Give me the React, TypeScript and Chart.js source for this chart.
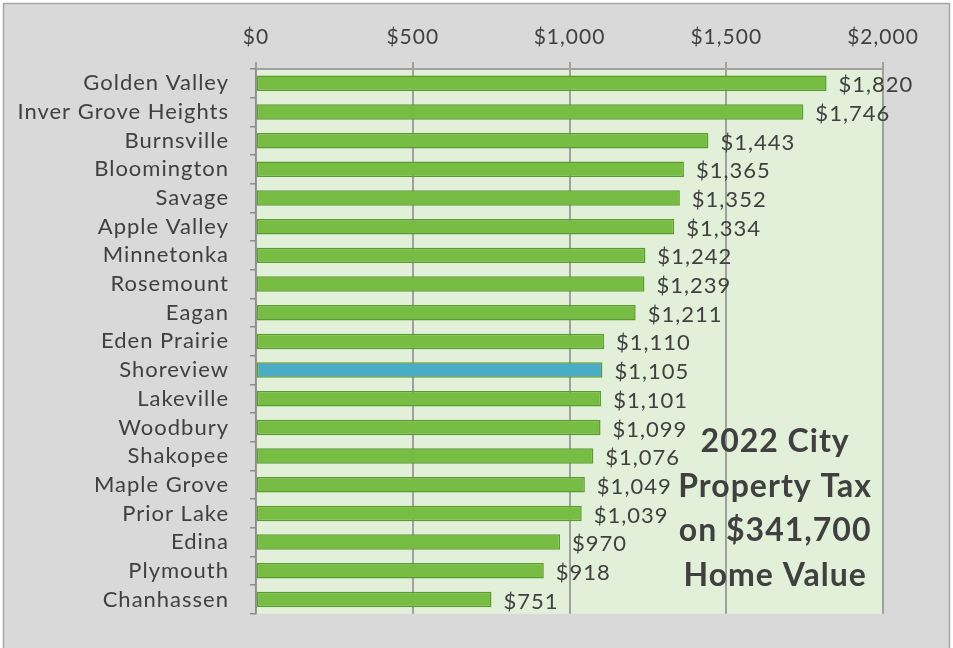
import React, { useEffect, useRef } from "react";
import { Chart, registerables } from "chart.js";

Chart.register(...registerables);

const cities = [
  "Golden Valley",
  "Inver Grove Heights",
  "Burnsville",
  "Bloomington",
  "Savage",
  "Apple Valley",
  "Minnetonka",
  "Rosemount",
  "Eagan",
  "Eden Prairie",
  "Shoreview",
  "Lakeville",
  "Woodbury",
  "Shakopee",
  "Maple Grove",
  "Prior Lake",
  "Edina",
  "Plymouth",
  "Chanhassen",
];
const taxes = [1820, 1746, 1443, 1365, 1352, 1334, 1242, 1239, 1211, 1110, 1105, 1101, 1099, 1076, 1049, 1039, 970, 918, 751];
const highlightCity = "Shoreview";
const xMin = 0;
const xMax = 2000;
const xStep = 500;
const titleLines = ["2022 City", "Property Tax", "on $341,700", "Home Value"];

const FONT = "Lato, 'Open Sans', sans-serif";
const TEXT = "#404040";
const fmt = (v: number) => "$" + Number(v).toLocaleString("en-US");

const bgPlugin = {
  id: "bg",
  beforeDraw(chart: any) {
    const { ctx, width, height, chartArea } = chart;
    ctx.save();
    ctx.fillStyle = "#ffffff";
    ctx.fillRect(0, 0, width, height);
    ctx.fillStyle = "#d9d9d9";
    ctx.fillRect(3, 3, width - 6, height + 10);
    ctx.strokeStyle = "#a6a6a6";
    ctx.lineWidth = 1.5;
    ctx.strokeRect(3.5, 3.5, width - 7, height + 10);
    ctx.fillStyle = "#e2f0d9";
    ctx.fillRect(chartArea.left, chartArea.top, chartArea.right - chartArea.left, chartArea.bottom - chartArea.top);
    ctx.restore();
    (ctx as any).letterSpacing = "1px";
  },
};

const labelPlugin = {
  id: "valueLabels",
  afterDatasetsDraw(chart: any) {
    const { ctx } = chart;
    const meta = chart.getDatasetMeta(0);
    ctx.save();
    (ctx as any).letterSpacing = "1px";
    ctx.font = `22px ${FONT}`;
    ctx.fillStyle = TEXT;
    ctx.textAlign = "left";
    ctx.textBaseline = "middle";
    meta.data.forEach((bar: any, i: number) => {
      ctx.fillText(fmt(taxes[i]), bar.x + 12, bar.y + 2);
    });
    ctx.restore();
  },
};

const titlePlugin = {
  id: "titleBox",
  afterDraw(chart: any) {
    const { ctx, chartArea } = chart;
    const cx = chartArea.left + 0.828 * (chartArea.right - chartArea.left);
    const y0 = chartArea.top + 373;
    ctx.save();
    (ctx as any).letterSpacing = "1px";
    ctx.font = `bold 32px ${FONT}`;
    ctx.fillStyle = TEXT;
    ctx.textAlign = "center";
    ctx.textBaseline = "middle";
    titleLines.forEach((line, i) => {
      ctx.fillText(line, cx, y0 + i * 44.5);
    });
    ctx.restore();
  },
};

export default function App() {
  const ref = useRef<HTMLCanvasElement | null>(null);

  useEffect(() => {
    if (!ref.current) return;
    const chart = new Chart(ref.current, {
      type: "bar",
      data: {
        labels: cities,
        datasets: [
          {
            data: taxes,
            backgroundColor: cities.map((c) => (c === highlightCity ? "#4bacc6" : "#77bc43")),
            borderColor: "#5a9b30",
            borderWidth: 1.5,
            borderSkipped: false,
            barPercentage: 0.54,
            categoryPercentage: 1,
          },
        ],
      },
      options: {
        indexAxis: "y",
        responsive: false,
        animation: false,
        layout: { padding: { left: 0, top: 0, right: 70, bottom: 26 } },
        plugins: {
          legend: { display: false },
          tooltip: { enabled: false },
        },
        scales: {
          x: {
            position: "top",
            min: xMin,
            max: xMax,
            afterFit: (s: any) => {
              s.height = 69;
            },
            ticks: {
              stepSize: xStep,
              callback: (v: any) => fmt(v),
              color: TEXT,
              font: { family: FONT, size: 21 },
              padding: 12,
            },
            grid: { color: "#a0a0a0", lineWidth: 2, tickLength: 7 },
            border: { display: true, color: "#a0a0a0", width: 2 },
          },
          y: {
            afterFit: (s: any) => {
              s.width = 256;
            },
            ticks: {
              autoSkip: false,
              color: TEXT,
              font: { family: FONT, size: 22 },
              padding: 21,
            },
            grid: { drawOnChartArea: false, drawTicks: true, tickLength: 6, color: "#8c8c8c", lineWidth: 1.5, offset: true },
            border: { display: true, color: "#8c8c8c", width: 1.5 },
          },
        },
      },
      plugins: [bgPlugin, labelPlugin, titlePlugin],
    });
    return () => chart.destroy();
  }, []);

  return (
    <div style={{ position: "fixed", left: 0, top: 0, width: 953, height: 648 }}>
      <canvas ref={ref} width={953} height={648} style={{ display: "block" }} />
    </div>
  );
}
